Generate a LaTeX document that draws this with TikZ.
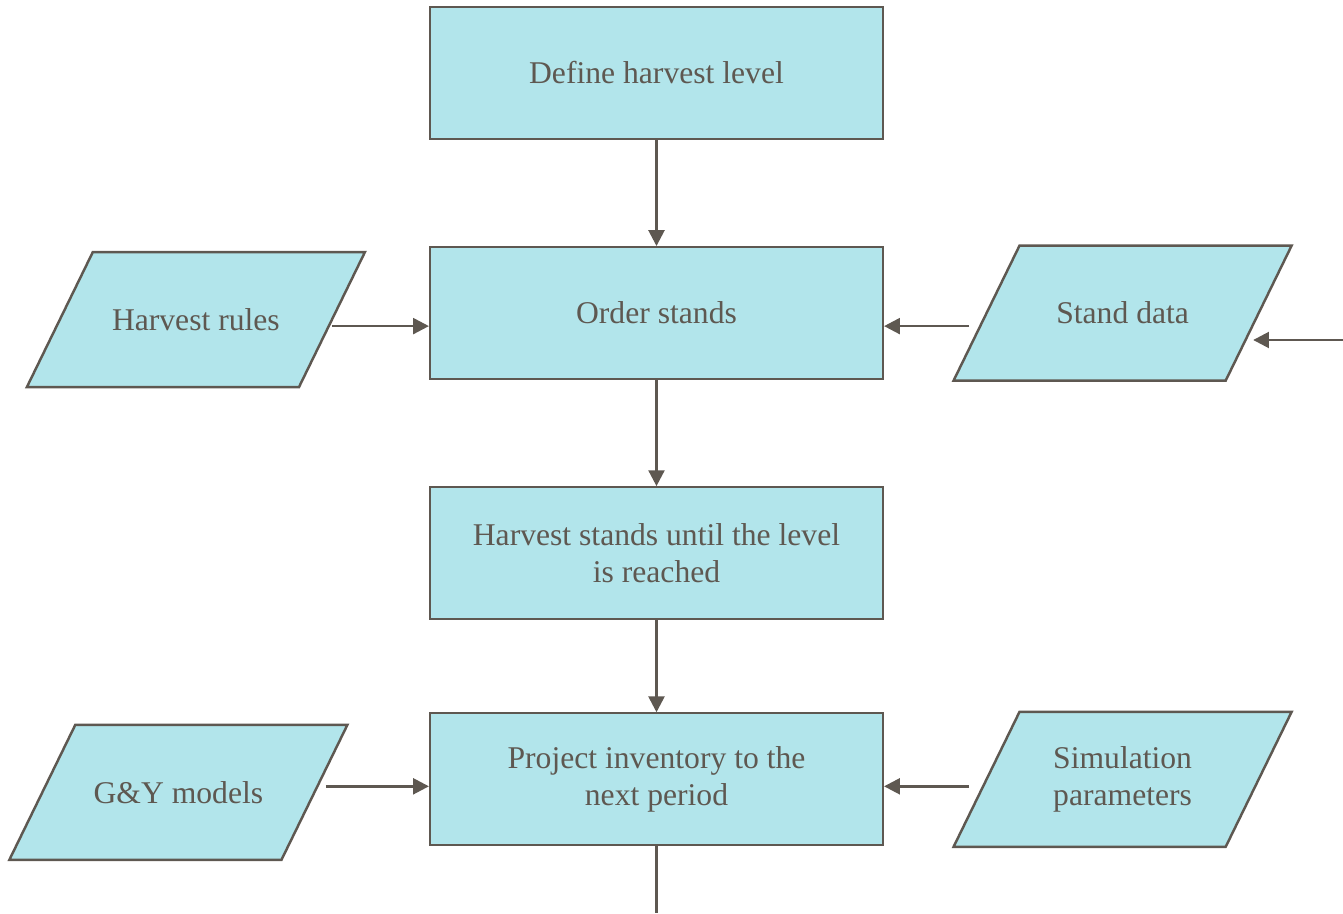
\documentclass[tikz,border=0pt]{standalone}
\usepackage{fontspec}
\setmainfont{Liberation Serif}
\usetikzlibrary{positioning,arrows.meta}

\definecolor{boxfill}{HTML}{B2E5EB}
\definecolor{linec}{HTML}{5E5851}

\pgfdeclarelayer{background}
\pgfsetlayers{background,main}

\begin{document}
\begin{tikzpicture}[node distance=2.12cm and 2.05cm, >={Triangle[length=9pt,width=9pt]},
  font=\fontsize{18}{21.5}\selectfont, text=linec, line width=1.2pt,
  process/.style={draw=linec, fill=boxfill, rectangle, minimum width=9.06cm, minimum height=2.64cm, align=center, inner sep=0pt},
  data/.style={rectangle, minimum width=5.4cm, minimum height=2.66cm, align=center, inner sep=0pt},
  datashape/.style={draw=linec, fill=boxfill, line width=1.4pt},
  link/.style={linec, line width=1.5pt}]

\useasboundingbox (0,0) rectangle (26.86,-18.28);

% Nodes
\node[process] (define) at (13.13,-1.46) {Define harvest level};
\node[process, below=of define] (order) {Order stands};
\node[process, below=of order] (hstands) {Harvest stands until the level\\is reached};
\node[process, below=1.84cm of hstands] (project) {Project inventory to the\\next period};

\node[data, left=1.94cm of order, yshift=-0.13cm] (hrules) {Harvest rules};
\node[data, right=of order] (sdata) {Stand data};
\node[data, left=2.29cm of project, yshift=-0.26cm] (gy) {G\&Y models};
\node[data, right=of project] (sim) {Simulation\\parameters};

% parallelograms behind the data nodes
\begin{pgfonlayer}{background}
\foreach \n in {hrules,sdata,gy,sim}
  \draw[datashape] ([xshift=0.66cm]\n.north west) -- ([xshift=0.66cm]\n.north east)
    -- ([xshift=-0.66cm]\n.south east) -- ([xshift=-0.66cm]\n.south west) -- cycle;
\end{pgfonlayer}

\coordinate (sdin) at (26.86,-6.8);
\coordinate (out) at ([yshift=-1.34cm]project.south);

% Arrows
\draw[->, link] (define) -- (order);
\draw[->, link] (order) -- (hstands);
\draw[->, link] (hstands) -- (project);
\draw[link] (project.south) -- (out);

\draw[->, link] ([yshift=-0.13cm]hrules.east) -- ([yshift=-0.13cm]hrules.east -| order.west);
\draw[->, link] ([xshift=-0.35cm, yshift=-0.26cm]sdata.west) -- ([yshift=-0.26cm]sdata.west -| order.east);
\draw[->, link] (sdin) -- ([xshift=-0.11cm]sdin -| sdata.east);

\draw[->, link] ([xshift=0.23cm, yshift=0.12cm]gy.east) -- ([yshift=0.12cm]gy.east -| project.west);
\draw[->, link] ([xshift=-0.35cm, yshift=-0.14cm]sim.west) -- ([yshift=-0.14cm]sim.west -| project.east);

\end{tikzpicture}
\end{document}
